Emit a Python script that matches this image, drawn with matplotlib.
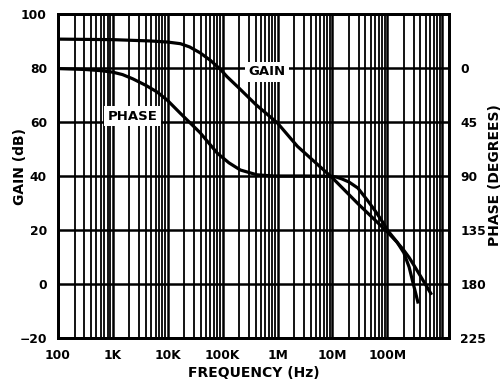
import numpy as np
import matplotlib.pyplot as plt
from matplotlib.ticker import LogLocator, FixedLocator, NullFormatter, NullLocator

plt.rcParams['font.family'] = 'DejaVu Sans'
plt.rcParams['font.weight'] = 'bold'

# gain curve (Hz, dB)
gain_freq = [100, 1e3, 5e3, 1e4, 1.7e4, 2.5e4, 3.9e4, 6e4, 9e4, 1.2e5, 2e5,
             4e5, 1e6, 2.3e6, 1e7, 3e7, 1e8, 1.5e8, 2e8, 2.5e8, 3e8, 4e8,
             4.9e8, 6.2e8]
gain_db = [90.7, 90.5, 90.0, 89.6, 89.0, 87.8, 85.6, 82.8, 79.6, 76.8, 72.5,
           66.5, 59.6, 51.0, 39.3, 29.5, 19.3, 15.5, 12.5, 9.8, 7.2, 3.0,
           0.0, -3.5]

# phase curve (Hz, degrees)
phase_freq = [100, 300, 600, 1e3, 1.5e3, 2.3e3, 4e3, 6.4e3, 9.8e3, 1.68e4,
              3.9e4, 8e4, 1.3e5, 2.1e5, 4.2e5, 8.4e5, 3e6, 1e7, 1.2e7, 1.5e7,
              2e7, 2.9e7, 4.3e7, 6e7, 8.4e7, 1e8, 1.5e8, 2e8, 2.5e8, 2.9e8,
              3.3e8, 3.6e8]
phase_deg = [0.5, 1.2, 2.2, 3.5, 5.5, 9.0, 14.5, 20.0, 26.8, 37.6,
             54.0, 71.0, 79.0, 85.0, 89.0, 90.0, 90.0, 90.3, 91.0, 92.5,
             95.0, 100.0, 110.0, 119.0, 129.0, 135.0, 145.0, 154.0, 166.0, 178.0,
             188.0, 195.0]

x_ticks = [1e2, 1e3, 1e4, 1e5, 1e6, 1e7, 1e8]
x_labels = ['100', '1K', '10K', '100K', '1M', '10M', '100M']
gain_ticks = [-20, 0, 20, 40, 60, 80, 100]
phase_ticks = [0, 45, 90, 135, 180, 225]

fig = plt.figure(figsize=(5.04, 3.87), dpi=100)
ax = fig.add_axes([58 / 504, 1 - 338 / 387, 391 / 504, 324 / 387])
ax.set_xscale('log')
ax.set_xlim(100, 1.33e9)
ax.set_ylim(-20, 100)

# grid: every 1..9 per decade vertical, every 20 dB horizontal
ax.xaxis.set_major_locator(FixedLocator(x_ticks + [1e9]))
ax.xaxis.set_minor_locator(LogLocator(base=10, subs=np.arange(2, 10), numticks=20))
ax.xaxis.set_minor_formatter(NullFormatter())
ax.set_xticks(x_ticks + [1e9])
ax.set_xticklabels(x_labels + [''])
ax.set_yticks(gain_ticks)
ax.yaxis.set_minor_locator(NullLocator())
ax.grid(True, which='major', color='black', lw=1.8)
ax.grid(True, which='minor', axis='x', color='black', lw=1.3)
ax.tick_params(which='both', length=0)
ax.tick_params(axis='x', pad=8, labelsize=8.8)
ax.tick_params(axis='y', pad=8, labelsize=8.8)
for s in ax.spines.values():
    s.set_linewidth(2)

ax.plot(gain_freq, gain_db, color='black', lw=2.3, zorder=5)

ax2 = ax.twinx()
ax2.set_ylim(225, -45)
ax2.set_yticks(phase_ticks)
ax2.tick_params(length=0, pad=8, labelsize=8.8)
ax2.plot(phase_freq, phase_deg, color='black', lw=2.3, zorder=5)
for s in ax2.spines.values():
    s.set_linewidth(2)

ax.set_xlabel('FREQUENCY (Hz)', fontsize=10, fontweight='bold', labelpad=3)
ax.set_ylabel('GAIN (dB)', fontsize=10, fontweight='bold')
ax.yaxis.set_label_coords(-0.079, 0.528)
ax2.set_ylabel('PHASE (DEGREES)', fontsize=10, fontweight='bold')
ax2.yaxis.set_label_coords(1.1, 0.503)

box = dict(facecolor='white', edgecolor='none', pad=2.5)
ax2.text(6.3e5, 3, 'GAIN', fontsize=9.5, fontweight='bold', ha='center',
         va='center', bbox=box, zorder=4)
ax2.text(2.3e3, 40, 'PHASE', fontsize=9.5, fontweight='bold', ha='center',
         va='center', bbox=box, zorder=4)

fig.savefig('out.png', dpi=100)
